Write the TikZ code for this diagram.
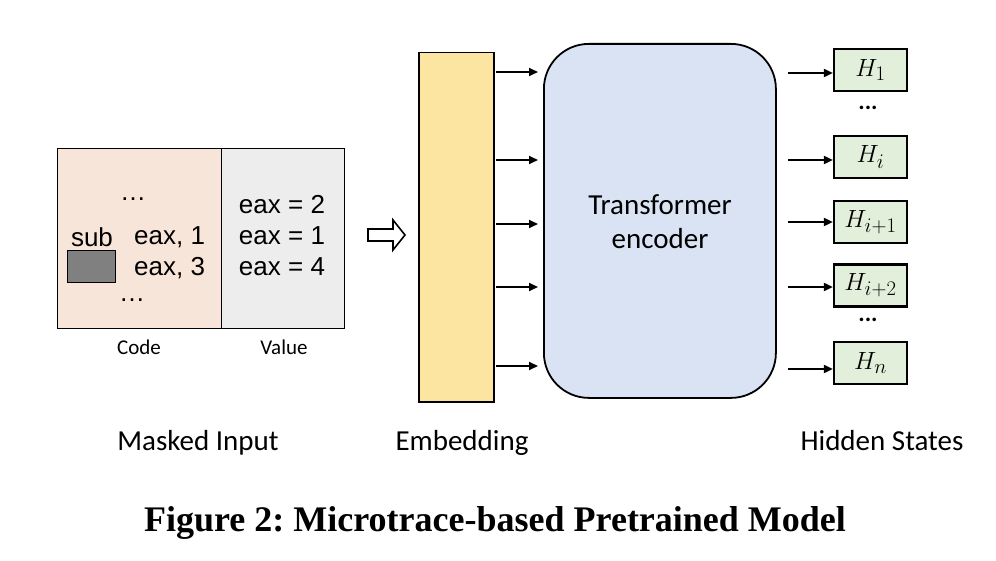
\documentclass[tikz,border=0pt]{standalone}
\usepackage{fontspec}
\setmainfont{Carlito}
\newfontfamily\arialf{Liberation Sans}
\newfontfamily\capf{Liberation Serif}
\usetikzlibrary{arrows.meta}
\definecolor{codefill}{HTML}{F8E5DA}
\definecolor{valfill}{HTML}{EDEDED}
\definecolor{embfill}{HTML}{FBE5A0}
\definecolor{encfill}{HTML}{DAE3F3}
\definecolor{hfill}{HTML}{E2EFDA}
\frenchspacing
\begin{document}
\begin{tikzpicture}[x=1pt,y=-1pt,
  codetxt/.style={font=\arialf\fontsize{26}{28}\selectfont, inner sep=0pt},
  lbl/.style={font=\fontsize{29}{32}\selectfont, inner sep=0pt},
  small/.style={font=\fontsize{21}{24}\selectfont, inner sep=0pt},
  arr/.style={-{Triangle[length=9pt,width=8pt]}, line width=1.8pt},
  hbox/.style={draw, line width=2.2pt, fill=hfill, minimum width=73pt, minimum height=42pt, inner sep=0pt, font=\fontsize{29}{30}\selectfont},
]
\useasboundingbox (0,0) rectangle (996,561);
% code / value
\node[draw, line width=1pt, fill=codefill, minimum width=164pt, minimum height=180pt, anchor=north west, inner sep=0pt] (code) at (57,148) {};
\node[draw, line width=1pt, fill=valfill, minimum width=123pt, minimum height=180pt, anchor=north west, inner sep=0pt] (val) at (221,148) {};
\node[codetxt] (d1) at (133,199) {\dots};
\node[codetxt] (sub) at (92,237) {sub};
\node[codetxt, anchor=west] (e1) at (134,237) {eax, 1};
\node[draw, line width=1pt, fill=black!50, minimum width=48pt, minimum height=32pt, inner sep=0pt] (mask) at (91,267) {};
\node[codetxt, anchor=west] (e3) at (134,268) {eax, 3};
\node[codetxt] (d2) at (132,300) {\dots};
\node[codetxt] (v1) at (282,205) {eax = 2};
\node[codetxt] (v2) at (282,236) {eax = 1};
\node[codetxt] (v3) at (282,267) {eax = 4};
\node[small, anchor=base] (codel) at (139,354) {Code};
\node[small, anchor=base] (vall) at (284,354) {Value};
% hollow arrow
\draw[line width=1.6pt, fill=white, line join=miter] (368,229) -- (393,229) -- (393,220) -- (405,235) -- (393,250) -- (393,241) -- (368,241) -- cycle;
% embedding
\node[draw, line width=1.5pt, fill=embfill, minimum width=75pt, minimum height=349pt, anchor=north west, inner sep=0pt] (emb) at (418,52) {};
% encoder
\node[draw, line width=1.8pt, fill=encfill, rounded corners=45pt, minimum width=232pt, minimum height=354pt, anchor=north west, inner sep=0pt] (enc) at (543,43) {};
\node[lbl] (t1) at (660,205) {Transformer};
\node[lbl] (t2) at (660,239) {encoder};
% arrows embedding -> encoder
\foreach \y/\n in {72/a,160/b,224/c,287/d,366/e}{
  \coordinate (s\n) at (496,\y);
  \coordinate (t\n) at (538,\y);
  \draw[arr] (s\n) -- (t\n);
}
% hidden boxes
\node[hbox] (h1) at (870.5,70) {$H_1$};
\node[hbox] (hi) at (870.5,157) {$H_i$};
\node[hbox] (hi1) at (870.5,222) {$H_{i+1}$};
\node[hbox] (hi2) at (870.5,285.5) {$H_{i+2}$};
\node[hbox] (hn) at (870.5,363) {$H_n$};
\node[font=\bfseries\fontsize{24}{26}\selectfont, inner sep=0pt] (hd1) at (868,108) {...};
\node[font=\bfseries\fontsize{24}{26}\selectfont, inner sep=0pt] (hd2) at (868,320) {...};
\foreach \y/\n in {73/h1,160/hi,222/hi1,287/hi2,369/hn}{
  \coordinate (r\n) at (788,\y);
  \draw[arr] (r\n) -- (\n.west |- r\n);
}
% labels
\node[lbl, anchor=base] (mi) at (198,450) {Masked Input};
\node[lbl, anchor=base] (el) at (462,450) {Embedding};
\node[lbl, anchor=base] (hs) at (882,450) {Hidden States};
\node[font=\capf\bfseries\fontsize{36}{38}\selectfont, inner sep=0pt] (cap) at (495,523) {Figure 2: Microtrace-based Pretrained Model};
\end{tikzpicture}
\end{document}
